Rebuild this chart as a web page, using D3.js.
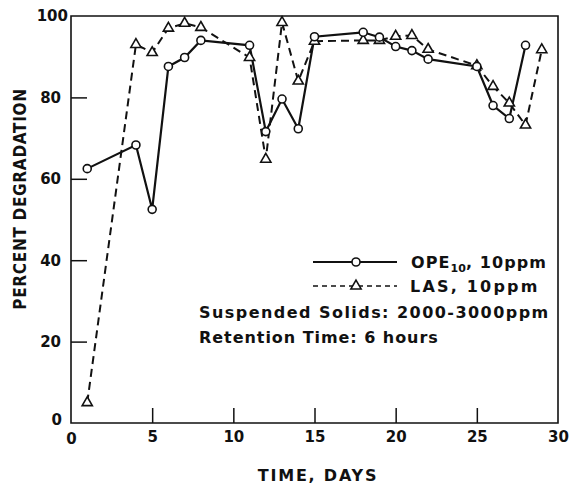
<!DOCTYPE html>
<html>
<head>
<meta charset="utf-8">
<script src="https://cdn.jsdelivr.net/npm/d3@7"></script>
<style>
  body { margin: 0; background: #fff; }
  svg text { font-family: "DejaVu Sans", sans-serif; font-weight: bold; fill: #111; }
</style>
</head>
<body>
<div id="chart"></div>
<script>
"use strict";

const opeDays = [1, 4, 5, 6, 7, 8, 11, 12, 13, 14, 15, 18, 19, 20, 21, 22, 25, 26, 27, 28];
const opeValues = [62.5, 68.3, 52.5, 87.6, 89.8, 94, 92.8, 71.6, 79.6, 72.3, 94.9, 96, 94.8, 92.5, 91.5, 89.4, 87.6, 78, 74.8, 92.8];
const lasDays = [1, 4, 5, 6, 7, 8, 11, 12, 13, 14, 15, 18, 19, 20, 21, 22, 25, 26, 27, 28, 29];
const lasValues = [5, 93, 91, 97, 98.2, 97.2, 89.8, 64.8, 98.4, 84, 93.8, 94, 94, 95, 95.2, 91.8, 87.8, 82.7, 78.6, 73.2, 91.7];
const xTicks = [0, 5, 10, 15, 20, 25, 30];
const yTicks = [0, 20, 40, 60, 80, 100];

const width = 571;
const height = 485;
const margin = { top: 16, right: 13, bottom: 62, left: 71 };
const innerW = width - margin.left - margin.right;
const innerH = height - margin.top - margin.bottom;
const ink = "#111";

const svg = d3.select("#chart").append("svg").attr("width", width).attr("height", height);
const g = svg.append("g").attr("transform", `translate(${margin.left},${margin.top})`);

const x = d3.scaleLinear().domain([0, 30]).range([0, innerW]);
const y = d3.scaleLinear().domain([0, 100]).range([innerH, 0]);

// frame round the plot
g.append("path")
  .attr("d", `M0,0H${innerW}V${innerH}H0Z`)
  .style("fill", "none")
  .style("stroke", ink)
  .style("stroke-width", "1.6px");

// ticks point inward
const xAxis = g.append("g").attr("transform", `translate(0,${innerH})`)
  .call(d3.axisBottom(x).tickValues(xTicks).tickSizeInner(-15).tickSizeOuter(0).tickPadding(8));
const yAxis = g.append("g")
  .call(d3.axisLeft(y).tickValues(yTicks).tickSizeInner(-16).tickSizeOuter(0).tickPadding(26));
[xAxis, yAxis].forEach((ax) => {
  ax.select(".domain").remove();
  ax.selectAll("line").style("stroke", ink).style("stroke-width", "1.5px");
  ax.selectAll("text").style("font-size", "15px");
});
xAxis.selectAll(".tick").filter((d) => d === 0 || d === 30).select("line").remove();
yAxis.selectAll(".tick").filter((d) => d === 0 || d === 100).select("line").remove();
yAxis.selectAll("text").attr("dx", 16)
  .filter((d) => d === 100).attr("dx", 23);
yAxis.selectAll("text").filter((d) => d === 0).attr("dx", 17).attr("dy", "0.1em");
xAxis.selectAll("text").filter((d) => d === 0).attr("dy", "0.85em");

// axis titles
svg.append("text")
  .attr("x", 318)
  .attr("y", 481)
  .attr("text-anchor", "middle")
  .style("font-size", "16px")
  .style("letter-spacing", "1.8px")
  .text("TIME, DAYS");
svg.append("text")
  .attr("transform", "translate(26,199) rotate(-90)")
  .attr("text-anchor", "middle")
  .style("font-family", "'DejaVu Sans Condensed', 'DejaVu Sans', sans-serif")
  .style("font-size", "17px")
  .style("letter-spacing", "0.7px")
  .text("PERCENT DEGRADATION");

const opeData = opeDays.map((d, i) => ({ day: d, value: opeValues[i] }));
const lasData = lasDays.map((d, i) => ({ day: d, value: lasValues[i] }));

const line = d3.line().x((d) => x(d.day)).y((d) => y(d.value));

g.append("path")
  .datum(lasData)
  .attr("d", line)
  .style("fill", "none")
  .style("stroke", ink)
  .style("stroke-width", "2px")
  .style("stroke-dasharray", "8,5");
g.append("path")
  .datum(opeData)
  .attr("d", line)
  .style("fill", "none")
  .style("stroke", ink)
  .style("stroke-width", "2.2px");

const triangle = d3.symbol().type(d3.symbolTriangle).size(45);

g.selectAll(".las-dot")
  .data(lasData)
  .join("path")
  .attr("class", "las-dot")
  .attr("transform", (d) => `translate(${x(d.day)},${y(d.value)})`)
  .attr("d", triangle)
  .style("fill", "#fff")
  .style("stroke", ink)
  .style("stroke-width", "1.6px");

g.selectAll(".ope-dot")
  .data(opeData)
  .join("circle")
  .attr("class", "ope-dot")
  .attr("cx", (d) => x(d.day))
  .attr("cy", (d) => y(d.value))
  .attr("r", 4)
  .style("fill", "#fff")
  .style("stroke", ink)
  .style("stroke-width", "1.6px");

// legend and notes
const leg = svg.append("g");
leg.append("line").attr("x1", 313).attr("x2", 397).attr("y1", 262).attr("y2", 262)
  .style("stroke", ink).style("stroke-width", "2px");
leg.append("circle").attr("cx", 356).attr("cy", 262).attr("r", 4)
  .style("fill", "#fff").style("stroke", ink).style("stroke-width", "1.6px");
leg.append("line").attr("x1", 313).attr("x2", 397).attr("y1", 286).attr("y2", 286)
  .style("stroke", ink).style("stroke-width", "1.6px").style("stroke-dasharray", "5,4");
leg.append("path").attr("transform", "translate(356,286)").attr("d", triangle)
  .style("fill", "#fff").style("stroke", ink).style("stroke-width", "1.6px");

const t1 = leg.append("text").attr("x", 411).attr("y", 268).style("font-size", "16px").style("letter-spacing", "1.1px");
t1.append("tspan").text("OPE");
t1.append("tspan").attr("dy", 4).style("font-size", "11px").style("letter-spacing", "0px").text("10");
t1.append("tspan").attr("dy", -4).text(", 10ppm");
leg.append("text").attr("x", 410).attr("y", 292).style("font-size", "16px").style("letter-spacing", "2.2px").text("LAS, 10ppm");
leg.append("text").attr("x", 199).attr("y", 318).style("font-size", "16px").style("letter-spacing", "1.45px").text("Suspended Solids: 2000-3000ppm");
leg.append("text").attr("x", 199).attr("y", 343).style("font-size", "16px").style("letter-spacing", "0.95px").text("Retention Time: 6 hours");
</script>
</body>
</html>
